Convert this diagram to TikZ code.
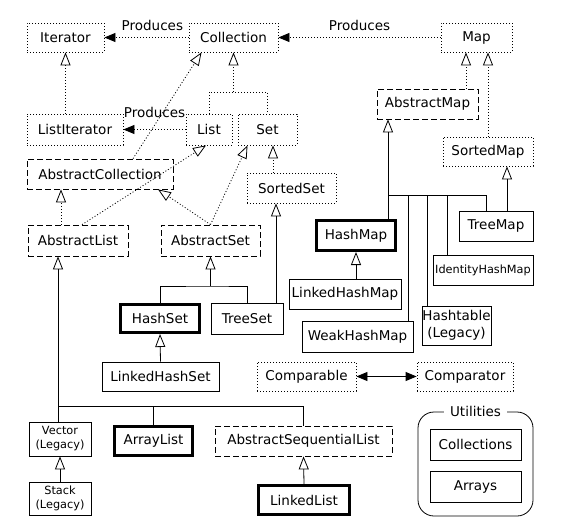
\documentclass[tikz,border=0pt]{standalone}
\usepackage{fontspec}
\setmainfont{DejaVu Sans}
\usetikzlibrary{
  arrows.meta,
  positioning
}
\tikzset{
  iface/.style = {draw, dash pattern=on 1pt off 2pt},
  abstr/.style = {draw, dash pattern=on 6pt off 3pt},
  concrete/.style = {draw},
  main/.style = {draw, line width=3pt},
  smallfont/.style = {font=\fontsize{11.3}{14}\selectfont},
  impl/.style = {dash pattern=on 1pt off 2pt, -{Triangle[open, length=13pt, width=10pt]}},
  ext/.style = {-{Triangle[open, length=13pt, width=10pt]}},
  produces/.style = {dash pattern=on 1pt off 2pt, -{Triangle[length=11pt, width=9pt]}},
  pairs/.style = {{Triangle[length=11pt, width=9pt]}-{Triangle[length=11pt, width=9pt]}}
}
\begin{document}
\begin{tikzpicture}[x=1pt, y=-1pt, line width=0.8pt,
    every node/.style = {shape=rectangle, inner sep=0pt, align=center,
      minimum height=30pt, font=\fontsize{13.5}{16.5}\selectfont}]
  \useasboundingbox (0,0) rectangle (579,531);
  % interfaces
  \node[iface, minimum width=77pt, minimum height=29pt] (iterator) at (65.5,37.5) {Iterator};
  \node[iface, minimum width=89pt, minimum height=29pt] (collection) at (233.5,37.5) {Collection};
  \node[iface, minimum width=71pt, minimum height=29pt] (map) at (476.5,37.5) {Map};
  \node[iface, minimum width=96pt, minimum height=31pt] (listiterator) at (75,129.5) {ListIterator};
  \node[iface, minimum width=46pt, minimum height=31pt] (list) at (209,129.5) {List};
  \node[iface, minimum width=59pt, minimum height=31pt] (set) at (267.5,129.5) {Set};
  \node[iface, minimum width=90pt, minimum height=29pt] (sortedmap) at (488,151.5) {SortedMap};
  \node[iface, minimum width=89pt] (sortedset) at (291.5,188) {SortedSet};
  \node[iface, minimum width=99pt, minimum height=29pt] (comparable) at (306.5,376.5) {Comparable};
  \node[iface, minimum width=96pt, minimum height=29pt] (comparator) at (465,376.5) {Comparator};
  % abstract classes
  \node[abstr, minimum width=101pt] (abstractmap) at (427.5,104) {AbstractMap};
  \node[abstr, minimum width=146pt] (abstractcollection) at (100,174) {AbstractCollection};
  \node[abstr, minimum width=100pt, minimum height=31pt] (abstractlist) at (78,240.5) {AbstractList};
  \node[abstr, minimum width=99pt, minimum height=31pt] (abstractset) at (210.5,240.5) {AbstractSet};
  \node[abstr, minimum width=177pt] (abstractseqlist) at (303.5,441) {AbstractSequentialList};
  % classes
  \node[concrete, minimum width=74pt] (treemap) at (496,226) {TreeMap};
  \node[main, minimum width=79pt] (hashmap) at (356,235.5) {HashMap};
  \node[concrete, smallfont, minimum width=100pt] (identityhashmap) at (483,270) {IdentityHashMap};
  \node[concrete, minimum width=112pt] (linkedhashmap) at (345,294) {LinkedHashMap};
  \node[concrete, minimum width=69pt, minimum height=39pt] (hashtable) at (456.5,325.5) {Hashtable\\(Legacy)};
  \node[concrete, minimum width=111pt, minimum height=31pt] (weakhashmap) at (357.5,336.5) {WeakHashMap};
  \node[main, minimum width=79pt, minimum height=28pt] (hashset) at (160,318.5) {HashSet};
  \node[concrete, minimum width=72pt, minimum height=31pt] (treeset) at (247,318.5) {TreeSet};
  \node[concrete, minimum width=117pt, minimum height=29pt] (linkedhashset) at (160.5,376.5) {LinkedHashSet};
  \node[concrete, smallfont, minimum width=62pt, minimum height=34pt] (vector) at (60,439) {Vector\\(Legacy)};
  \node[main, minimum width=78pt, minimum height=29pt] (arraylist) at (153.5,441) {ArrayList};
  \node[concrete, smallfont, minimum width=62pt, minimum height=33pt] (stack) at (60,498.5) {Stack\\(Legacy)};
  \node[main, minimum width=91pt, minimum height=29pt] (linkedlist) at (304,500) {LinkedList};
  % utilities
  \node[concrete, minimum width=115pt, minimum height=104pt, rounded corners=16pt] (utilities) at (475.5,464) {};
  \node[fill=white, inner xsep=6pt, minimum height=0pt] (utilitiestitle) at (utilities.north) {Utilities};
  \node[concrete, minimum width=91pt, minimum height=31pt] (collections) at (475.5,444.5) {Collections};
  \node[concrete, minimum width=91pt, minimum height=31pt] (arrays) at (475.5,486.5) {Arrays};

  \draw[produces] (collection) -- node[above=6.5pt, pos=0.43, minimum height=0pt] {Produces} (iterator);
  \draw[produces] (map) -- node[above=6.5pt, minimum height=0pt] {Produces} (collection);
  \draw[produces] (list) -- node[above=11pt, minimum height=0pt] {Produces} (listiterator);

  \coordinate (collfork) at (233.5,92);
  \draw[impl] (collfork) -- (collection);
  \draw[impl, -] (list.north) |- (collfork) -| (set.north);
  \draw[impl] (listiterator.north -| iterator) -- (iterator);
  \draw[impl] ([xshift=33pt]abstractcollection.north) -- ([xshift=-32pt]collection.south);
  \draw[impl] ([xshift=4pt]abstractlist.north) -- ([xshift=-3pt]list.south);
  \draw[impl] ([xshift=-17pt]abstractlist.north) -- ([xshift=-39pt]abstractcollection.south);
  \draw[impl] (abstractset.north) -- ([xshift=-20pt]set.south);
  \draw[impl] (abstractset.north) -- ([xshift=58pt]abstractcollection.south);
  \draw[impl] ([xshift=-18.5pt]sortedset.north) -- ([xshift=5.5pt]set.south);
  \draw[impl] ([xshift=38.5pt]abstractmap.north) -- ([xshift=-10.5pt]map.south);
  \draw[impl] (sortedmap.north) -- ([xshift=11.5pt]map.south);

  \coordinate (setfork) at (210.5,286);
  \draw[ext] (setfork) -- (abstractset);
  \draw (hashset.north) |- (setfork) -| (treeset.north);
  \draw[ext] ([xshift=29pt]treeset.north) -- ([xshift=-15.5pt]sortedset.south);
  \draw[ext] (linkedhashset.north) -- (hashset.south);

  \coordinate (listfork) at (58,406);
  \draw[ext] (listfork) -- ([xshift=-20pt]abstractlist.south);
  \draw (vector.north -| listfork) -- (listfork) -| (abstractseqlist.north);
  \draw (arraylist.north) -- (arraylist.north |- listfork);
  \draw[ext] (stack.north) -- (vector.south);
  \draw[ext] (linkedlist.north) -- (abstractseqlist.south);
  \draw[pairs] (comparable) -- (comparator);

  \coordinate (mapfork) at (388,195);
  \draw[ext] (mapfork) -- (abstractmap.south -| mapfork);
  \draw ([xshift=32pt]hashmap.north) -- (mapfork) -| ([xshift=-10pt]treemap.north);
  \draw ([xshift=50.5pt]weakhashmap.north) |- (mapfork);
  \draw ([xshift=-29.5pt]hashtable.north) |- (mapfork);
  \draw ([xshift=-36pt]identityhashmap.north) |- (mapfork);
  \draw[ext] ([xshift=11pt]treemap.north) -- ([xshift=19pt]sortedmap.south);
  \draw[ext] ([xshift=11pt]linkedhashmap.north) -- (hashmap.south);
\end{tikzpicture}
\end{document}
